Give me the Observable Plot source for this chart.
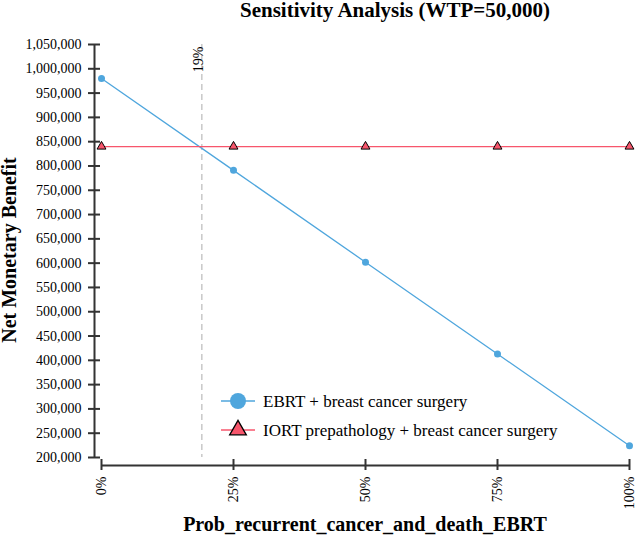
<!DOCTYPE html>
<html><head><meta charset="utf-8">
<script src="https://cdn.jsdelivr.net/npm/d3@7"></script>
<script src="https://cdn.jsdelivr.net/npm/@observablehq/plot@0.6"></script>
<style>body{margin:0;background:#fff} svg text{font-family:"Liberation Serif", "Times New Roman", serif;}</style>
</head><body><div id="chart"></div>
<script>
const probs = [0, 0.25, 0.5, 0.75, 1];
const ebrt = [980000, 791000, 602000, 413000, 224000];
const iort = [840000, 840000, 840000, 840000, 840000];
const threshold = [0.19];
const yTicks = d3.range(200000, 1050001, 50000);
const xTicks = [0, 0.25, 0.5, 0.75, 1];
const seriesNames = ["EBRT + breast cancer surgery", "IORT prepathology + breast cancer surgery"];
const colors = ["#4fa6dd", "#f7566c"];
const titleText = "Sensitivity Analysis (WTP=50,000)";
const xLabel = "Prob_recurrent_cancer_and_death_EBRT";
const yLabel = "Net Monetary Benefit";

const ebrtData = probs.map((p, i) => ({p, v: ebrt[i]}));
const iortData = probs.map((p, i) => ({p, v: iort[i]}));
const pct = d3.format(".0%");
const axisColor = "#333";

const svg = Plot.plot({
  width: 638, height: 536,
  marginLeft: 101, marginRight: 9, marginTop: 44, marginBottom: 79,
  x: {domain: [0, 1]},
  y: {domain: [200000, 1050000]},
  style: {fontFamily: "'Liberation Serif', serif", fontSize: "14px", color: "#000", background: "#fff"},
  marks: [
    Plot.ruleX(threshold, {x: d => d, stroke: "#c8c8c8", strokeWidth: 1.5, strokeDasharray: "6,4"}),
    Plot.text(threshold, {x: d => d, frameAnchor: "top", text: d => pct(d), rotate: -90, textAnchor: "end", dx: -9, dy: 2, fontSize: 14, fill: "#000"}),
    Plot.ruleX([0], {y1: 200000, y2: 1050000, dx: -7, stroke: axisColor, strokeWidth: 2}),
    Plot.axisY({ticks: yTicks, tickSize: 12, dx: -1, tickPadding: 7, tickFormat: d3.format(","), label: null, stroke: axisColor, strokeWidth: 2, fill: "#000", fontSize: 14}),
    Plot.ruleY([200000], {dy: 8, stroke: axisColor, strokeWidth: 2}),
    Plot.axisX({ticks: xTicks, tickSize: 11, dy: 2, tickRotate: -90, tickPadding: 6, tickFormat: pct, label: null, stroke: axisColor, strokeWidth: 2, fill: "#000", fontSize: 14}),
    Plot.line(ebrtData, {x: "p", y: "v", stroke: colors[0], strokeWidth: 1.3}),
    Plot.line(iortData, {x: "p", y: "v", stroke: colors[1], strokeWidth: 1.3}),
    Plot.dot(ebrtData, {x: "p", y: "v", r: 3.5, fill: colors[0]}),
    Plot.dot(iortData, {x: "p", y: "v", r: 3.3, symbol: "triangle", fill: colors[1], stroke: "#000", strokeWidth: 1})
  ]
});

const s = d3.select(svg);
s.append("text").attr("x", 395).attr("y", 17).attr("text-anchor", "middle")
  .attr("font-weight", "bold").attr("font-size", 21).attr("fill", "#000").text(titleText);
s.append("text").attr("x", 365).attr("y", 531).attr("text-anchor", "middle")
  .attr("font-weight", "bold").attr("font-size", 20).attr("fill", "#000").text(xLabel);
s.append("text").attr("transform", "translate(16,250) rotate(-90)").attr("text-anchor", "middle")
  .attr("font-weight", "bold").attr("font-size", 20).attr("fill", "#000").text(yLabel);

const legendY = [401, 430];
const lg = s.append("g");
seriesNames.forEach((name, i) => {
  const y = legendY[i];
  lg.append("line").attr("x1", 221).attr("x2", 255).attr("y1", y).attr("y2", y)
    .attr("stroke", colors[i]).attr("stroke-width", 1.3);
  if (i === 0) {
    lg.append("circle").attr("cx", 238).attr("cy", y).attr("r", 8).attr("fill", colors[i]);
  } else {
    lg.append("path").attr("transform", `translate(238,${y})`)
      .attr("d", d3.symbol(d3.symbolTriangle, 120)())
      .attr("fill", colors[i]).attr("stroke", "#000").attr("stroke-width", 1.3);
  }
  lg.append("text").attr("x", 263).attr("y", y).attr("dy", "0.35em").attr("text-anchor", "start")
    .attr("font-size", 17).attr("fill", "#000").text(name);
});

document.getElementById("chart").appendChild(svg);
</script>
</body></html>
